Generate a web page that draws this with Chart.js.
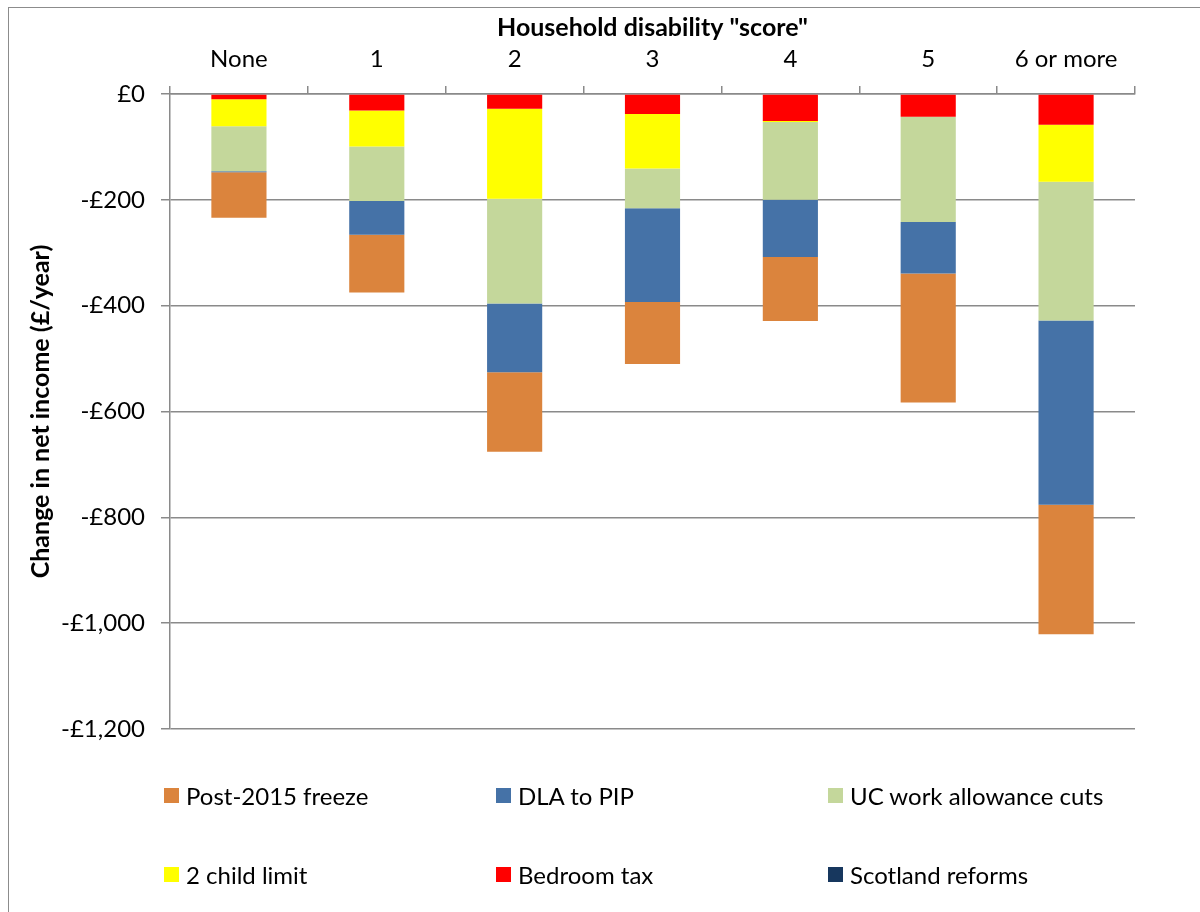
<!DOCTYPE html>
<html>
<head>
<meta charset="utf-8">
<script src="https://cdn.jsdelivr.net/npm/chart.js@4.4.1/dist/chart.umd.min.js"></script>
<style>
  html, body { margin: 0; padding: 0; background: #fff; }
  #wrap { position: relative; width: 1200px; height: 912px; overflow: hidden; font-family: Lato, sans-serif; }
  #frame { position: absolute; left: 8px; top: 7px; width: 1300px; height: 1000px; border: 1px solid #8c8c8c; }
  #chart { position: absolute; left: 0; top: 0; }
  #legend { position: absolute; left: 164px; top: 776px; display: grid;
            grid-template-columns: 332px 332px 332px; grid-auto-rows: 79px; }
  .item { display: flex; align-items: center; height: 38px; font-size: 24px; color: #000; }
  .box { width: 15px; height: 15px; margin-right: 7px; flex: none; }
</style>
</head>
<body>
<div id="wrap">
  <div id="frame"></div>
  <canvas id="chart" width="1200" height="912"></canvas>
  <div id="legend"></div>
</div>
<script>
const categories = ['None', '1', '2', '3', '4', '5', '6 or more'];
const bedroomTax = [-10, -31, -28, -38, -51, -43, -58];
const childLimit = [-51, -68, -170, -103, -2, 0, -108];
const ucWorkAllowance = [-85, -103, -198, -75, -147, -199, -262];
const dlaToPip = [-2, -64, -130, -177, -108, -97, -348];
const postFreeze = [-86, -109, -150, -117, -121, -244, -245];
const scotlandReforms = [0, 0, 0, 0, 0, 0, 0];
const yTicks = [0, -200, -400, -600, -800, -1000, -1200];

// stacked from zero outwards; legend order is the reverse
const series = [
  { name: 'Scotland reforms', data: scotlandReforms, color: '#17375e' },
  { name: 'Bedroom tax', data: bedroomTax, color: '#ff0000' },
  { name: '2 child limit', data: childLimit, color: '#ffff00' },
  { name: 'UC work allowance cuts', data: ucWorkAllowance, color: '#c4d79b' },
  { name: 'DLA to PIP', data: dlaToPip, color: '#4572a7' },
  { name: 'Post-2015 freeze', data: postFreeze, color: '#db843d' },
];
const legendOrder = ['Post-2015 freeze', 'DLA to PIP', 'UC work allowance cuts', '2 child limit', 'Bedroom tax', 'Scotland reforms'];

const FONT = 'Lato';
const GRID = '#8a8a8a';

function money(v) {
  if (v === 0) return '£0';
  return '-£' + Math.abs(v).toLocaleString('en-GB');
}

new Chart(document.getElementById('chart'), {
  type: 'bar',
  data: {
    labels: categories,
    datasets: series.map(s => ({
      label: s.name,
      data: s.data,
      backgroundColor: s.color,
      borderWidth: 0,
      categoryPercentage: 1,
      barPercentage: 0.4,
      stack: 'all',
    })),
  },
  options: {
    responsive: false,
    animation: false,
    layout: { padding: { left: 8, top: 8, right: 65, bottom: 183 } },
    plugins: { legend: { display: false }, tooltip: { enabled: false } },
    scales: {
      x: {
        position: 'top',
        stacked: true,
        afterFit: s => { s.height = 86; },
        grid: { drawOnChartArea: false, drawTicks: true, tickLength: 8, color: GRID, lineWidth: 1.5 },
        border: { display: true, color: GRID, width: 1.5 },
        ticks: { color: '#000', font: { family: FONT, size: 24 }, padding: 12, maxRotation: 0 },
        title: { display: true, text: 'Household disability "score"', color: '#000',
                 font: { family: FONT, size: 25, weight: 'bold' }, padding: { top: 5, bottom: 0 } },
      },
      y: {
        stacked: true,
        min: -1200,
        max: 0,
        afterFit: s => { s.width = 162; },
        afterBuildTicks: s => { s.ticks = yTicks.map(v => ({ value: v })); },
        grid: { color: GRID, lineWidth: 1.5, tickLength: 9 },
        border: { display: true, color: GRID, width: 1.5 },
        ticks: { color: '#000', font: { family: FONT, size: 24 }, padding: 16, callback: v => money(v) },
        title: { display: true, text: 'Change in net income (£/year)', color: '#000',
                 font: { family: FONT, size: 25, weight: 'bold' }, padding: { top: 18, bottom: 0 } },
      },
    },
  },
});

const legend = document.getElementById('legend');
legendOrder.forEach(name => {
  const s = series.find(x => x.name === name);
  const item = document.createElement('div');
  item.className = 'item';
  const box = document.createElement('span');
  box.className = 'box';
  box.style.background = s.color;
  const txt = document.createElement('span');
  txt.textContent = s.name;
  item.appendChild(box);
  item.appendChild(txt);
  legend.appendChild(item);
});
</script>
</body>
</html>
